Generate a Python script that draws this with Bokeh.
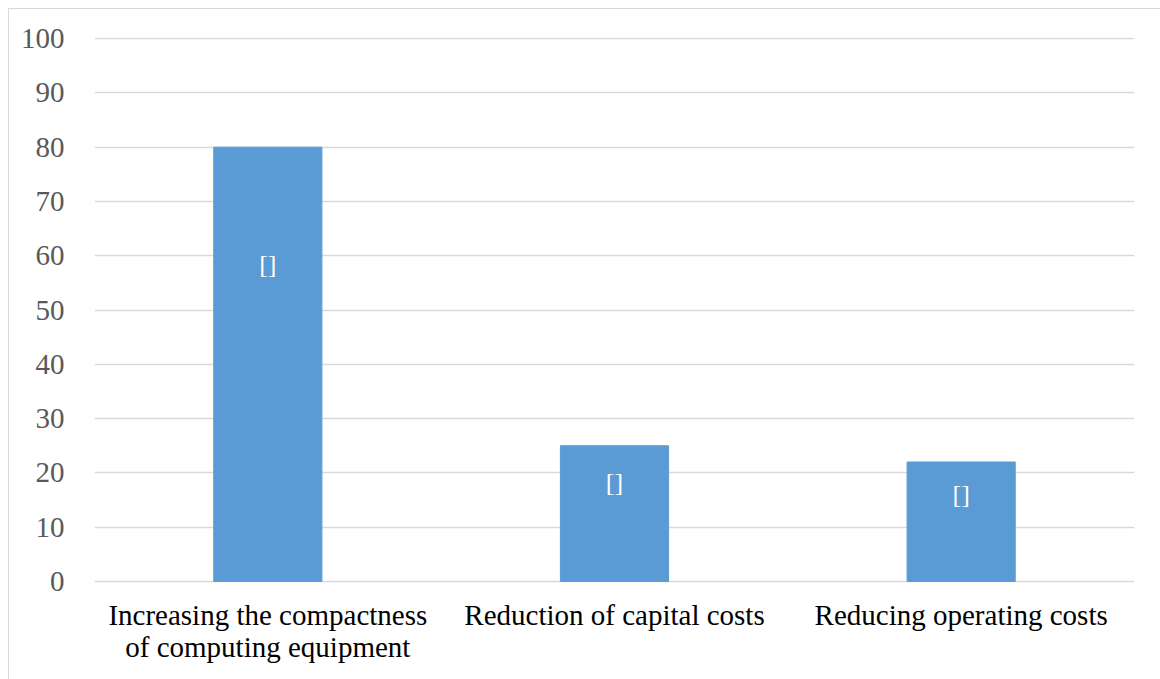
from bokeh.plotting import figure
from bokeh.models import ColumnDataSource, Range1d, FactorRange, FixedTicker, LabelSet
from bokeh.embed import file_html
from bokeh.resources import INLINE
from bokeh.core.properties import value

categories = ["Increasing the compactness of computing equipment",
              "Reduction of capital costs",
              "Reducing operating costs"]
category_labels = ["Increasing the compactness\nof computing equipment",
                   "Reduction of capital costs",
                   "Reducing operating costs"]
values = [80, 25, 22]
data_labels = ["[]", "[]", "[]"]
y_ticks = [0, 10, 20, 30, 40, 50, 60, 70, 80, 90, 100]

label_pos = [v * 0.73 for v in values]
zeros = [0 for _ in values]
src = ColumnDataSource(dict(cat=categories, val=values, lab=data_labels, lp=label_pos,
                            clab=category_labels, z=zeros))

# frame spans from 100 (top) down past 0 so that category labels sit inside it
p = figure(width=1160, height=690, x_range=FactorRange(*categories),
           y_range=Range1d(-21.75, 100.2), output_backend="svg", toolbar_location=None,
           min_border_left=85, min_border_right=35, min_border_top=28, min_border_bottom=0)
p.styles = {"margin-left": "8px", "margin-top": "8px", "border": "1px solid #d9d9d9"}
p.outline_line_color = None
p.x_range.range_padding = 0

p.vbar(x="cat", top="val", width=0.312, source=src, color="#5B9BD5")
labels = LabelSet(x="cat", y="lp", text="lab", source=src, text_color="white",
                  text_align="center", text_baseline="middle", text_font_size="26px",
                  text_font=value("Liberation Serif"))
p.add_layout(labels)

p.text(x="cat", y="z", text="clab", source=src, text_color="#000000",
       text_align="center", text_baseline="top", text_font_size="29px",
       text_font=value("Liberation Serif"), y_offset=18, text_line_height=1.0)

p.yaxis.ticker = FixedTicker(ticks=y_ticks)
p.yaxis.axis_line_color = None
p.yaxis.major_tick_line_color = None
p.yaxis.minor_tick_line_color = None
p.yaxis.major_label_text_font = "Liberation Serif"
p.yaxis.major_label_text_font_size = "29px"
p.yaxis.major_label_text_color = "#595959"
p.yaxis.major_label_standoff = 24

p.xaxis.visible = False

p.xgrid.grid_line_color = None
p.ygrid.grid_line_color = "#d9d9d9"
p.ygrid.grid_line_width = 1.5
p.ygrid.ticker = FixedTicker(ticks=y_ticks)

open("out.html", "w").write(file_html(p, INLINE))
